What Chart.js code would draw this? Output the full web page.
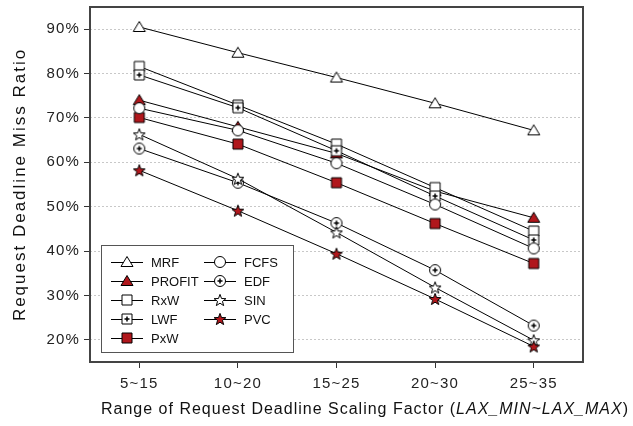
<!DOCTYPE html>
<html><head><meta charset="utf-8">
<script src="https://cdn.jsdelivr.net/npm/chart.js@4/dist/chart.umd.min.js"></script>
<style>html,body{margin:0;padding:0;background:#fff}#wrap{width:633px;height:426px}</style>
</head><body><div id="wrap"><canvas id="c" width="633" height="426"></canvas></div>
<script>
// ---- data ----
const categories = ['5~15', '10~20', '15~25', '20~30', '25~35'];
const yTickValues = [20, 30, 40, 50, 60, 70, 80, 90];
const seriesNames = ['MRF', 'PROFIT', 'RxW', 'LWF', 'PxW', 'FCFS', 'EDF', 'SIN', 'PVC'];
const MRF    = [90.5, 84.7, 79.1, 73.3, 67.2];
const PROFIT = [74.0, 68.0, 62.0, 53.5, 47.5];
const RxW    = [81.6, 72.9, 64.1, 54.3, 44.5];
const LWF    = [79.7, 72.3, 62.6, 52.4, 42.5];
const PxW    = [70.1, 64.1, 55.4, 46.2, 37.2];
const FCFS   = [72.2, 67.2, 59.8, 50.5, 40.6];
const EDF    = [63.1, 55.4, 46.3, 35.7, 23.2];
const SIN    = [66.3, 56.3, 44.2, 31.8, 19.9];
const PVC    = [58.2, 49.1, 39.4, 29.2, 18.5];
const seriesValues = [MRF, PROFIT, RxW, LWF, PxW, FCFS, EDF, SIN, PVC];

// ---- styles ----
const RED = '#B0171C';
const FONT = "'Liberation Sans', Arial, sans-serif";
function marker(shape, fill, plus) {
  const s = 16, c = document.createElement('canvas');
  c.width = s; c.height = s;
  const g = c.getContext('2d'); const m = s / 2;
  g.fillStyle = fill; g.strokeStyle = '#000'; g.lineWidth = 1;
  g.beginPath();
  if (shape === 'tri') { g.moveTo(m, m - 5.5); g.lineTo(m + 6, m + 4.5); g.lineTo(m - 6, m + 4.5); g.closePath(); }
  else if (shape === 'sq') { g.rect(m - 5, m - 5, 10, 10); }
  else if (shape === 'circ') { g.arc(m, m, 5.5, 0, Math.PI * 2); }
  else if (shape === 'star') {
    for (let i = 0; i < 10; i++) {
      const r = i % 2 ? 2.6 : 6.2; const a = -Math.PI / 2 + i * Math.PI / 5;
      const x = m + r * Math.cos(a), y = m + 0.6 + r * Math.sin(a);
      if (i) g.lineTo(x, y); else g.moveTo(x, y);
    }
    g.closePath();
  }
  g.fill(); g.stroke();
  if (plus) { g.fillStyle = '#000'; g.fillRect(m - 2.5, m - 0.75, 5, 1.5); g.fillRect(m - 0.75, m - 2.5, 1.5, 5); }
  return c;
}
const markerSpecs = [
  ['tri', '#fff', false], ['tri', RED, false], ['sq', '#fff', false], ['sq', '#fff', true], ['sq', RED, false],
  ['circ', '#fff', false], ['circ', '#fff', true], ['star', '#fff', false], ['star', RED, false]
];
const markers = markerSpecs.map(s => marker(s[0], s[1], s[2]));

const datasets = seriesNames.map((n, i) => ({
  label: n, data: seriesValues[i], borderColor: '#000', borderWidth: 1,
  pointStyle: markers[i], pointRadius: 6, pointHoverRadius: 6, fill: false, tension: 0,
  order: seriesNames.length - i
}));

const decor = {
  id: 'decor',
  beforeDraw(chart) { chart.ctx.letterSpacing = '1.2px'; },
  afterDraw(chart) {
    const ctx = chart.ctx, a = chart.chartArea;
    ctx.save();
    // frame
    ctx.strokeStyle = '#444'; ctx.lineWidth = 2;
    ctx.strokeRect(a.left, a.top, a.right - a.left, a.bottom - a.top);
    // y title
    ctx.fillStyle = '#111';
    ctx.letterSpacing = '2px';
    ctx.font = '17px ' + FONT;
    ctx.save();
    ctx.translate(20, (a.top + a.bottom) / 2);
    ctx.rotate(-Math.PI / 2);
    ctx.textAlign = 'center'; ctx.textBaseline = 'middle';
    ctx.fillText('Request Deadline Miss Ratio', 0, 0);
    ctx.restore();
    // x title with italic part
    ctx.letterSpacing = '1px';
    const parts = [['Range of Request Deadline Scaling Factor (', ''], ['LAX_MIN~LAX_MAX', 'italic '], [')', '']];
    let total = 0;
    parts.forEach(p => { ctx.font = p[1] + '16px ' + FONT; p.w = ctx.measureText(p[0]).width; total += p.w; });
    let x = 365 - total / 2;
    ctx.textAlign = 'left'; ctx.textBaseline = 'middle';
    parts.forEach(p => { ctx.font = p[1] + '16px ' + FONT; ctx.fillText(p[0], x, 410); x += p.w; });
    // legend
    ctx.letterSpacing = '0px';
    ctx.fillStyle = '#fff'; ctx.fillRect(101, 245, 193, 108);
    ctx.strokeStyle = '#555'; ctx.lineWidth = 1; ctx.strokeRect(101.5, 245.5, 192, 107);
    ctx.font = '13px ' + FONT; ctx.textBaseline = 'middle'; ctx.textAlign = 'left';
    chart.data.datasets.forEach((ds, i) => {
      const col = i < 5 ? 0 : 1, row = i < 5 ? i : i - 5;
      const x0 = col ? 204 : 111, y = 262 + row * 19;
      ctx.strokeStyle = '#000'; ctx.lineWidth = 1;
      ctx.beginPath(); ctx.moveTo(x0, y + 0.5); ctx.lineTo(x0 + 32, y + 0.5); ctx.stroke();
      const img = ds.pointStyle;
      ctx.drawImage(img, x0 + 16 - img.width / 2, y - img.height / 2);
      ctx.fillStyle = '#111';
      ctx.fillText(ds.label, x0 + 40, y + 1);
    });
    ctx.restore();
  }
};

new Chart(document.getElementById('c'), {
  type: 'line',
  data: { labels: categories, datasets },
  options: {
    responsive: false, animation: false, devicePixelRatio: 1,
    layout: { padding: { left: 0, right: 50, top: 7, bottom: 0 } },
    plugins: { legend: { display: false }, tooltip: { enabled: false } },
    scales: {
      x: {
        type: 'category', offset: true,
        grid: { display: true, drawOnChartArea: false, drawTicks: true, tickLength: 6, tickColor: '#333', offset: false },
        border: { display: false },
        ticks: { font: { family: FONT, size: 15 }, color: '#222', padding: 7, maxRotation: 0 },
        afterFit(s) { s.height = 64; s.paddingLeft = 0; s.paddingRight = 0; }
      },
      y: {
        min: 15, max: 95,
        afterBuildTicks(s) { s.ticks = yTickValues.map(v => ({ value: v })); },
        grid: { color: '#c8c8c8', tickColor: '#333', tickLength: 6, lineWidth: 1 },
        border: { display: false, dash: [2, 2] },
        ticks: { callback: v => v + '%', font: { family: FONT, size: 15 }, color: '#222', padding: 4 },
        afterFit(s) { s.width = 90; s.paddingTop = 0; s.paddingBottom = 0; }
      }
    }
  },
  plugins: [decor]
});
</script></body></html>
